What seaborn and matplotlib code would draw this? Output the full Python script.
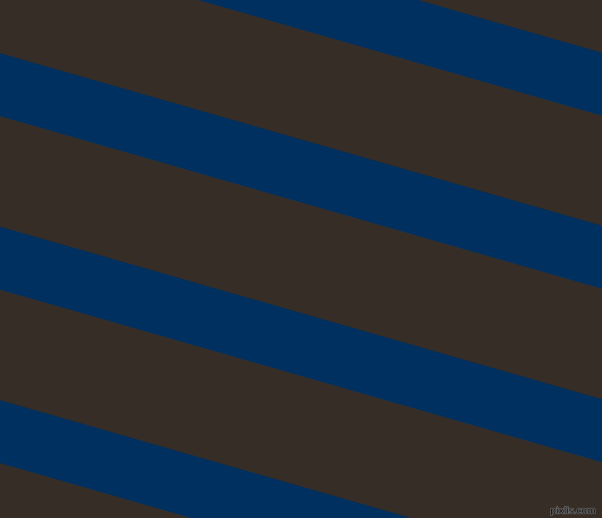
import numpy as np
import seaborn as sns
import matplotlib.pyplot as plt
import matplotlib.patheffects as pe

# Stripe pattern: brown background with navy diagonal bands
band_tops = [-120, 53, 226.5, 400]   # upper edge of each band at x = 0 (px)
band_width = 63                       # vertical thickness of a band (px)
slope = 0.2867                        # tan(16 deg), bands fall to the right

bg_color = '#372d27'
band_color = '#003060'

sns.set_theme(style='white')

fig = plt.figure(figsize=(6.02, 5.18), dpi=100)
ax = fig.add_axes([0, 0, 1, 1])
ax.set_facecolor(bg_color)
fig.patch.set_facecolor(bg_color)

x = np.array([0, 602])
for top in band_tops:
    ax.fill_between(x, top + slope * x, top + band_width + slope * x,
                    color=band_color, linewidth=0)

ax.set_xlim(0, 602)
ax.set_ylim(518, 0)
ax.axis('off')

# small watermark bottom right
ax.text(596, 511, 'pixlis.com', fontsize=6.5, color='#111111', ha='right', va='center',
        path_effects=[pe.withStroke(linewidth=1, foreground='#6a6a6a')])

fig.savefig('out.png', dpi=100, facecolor=bg_color)
